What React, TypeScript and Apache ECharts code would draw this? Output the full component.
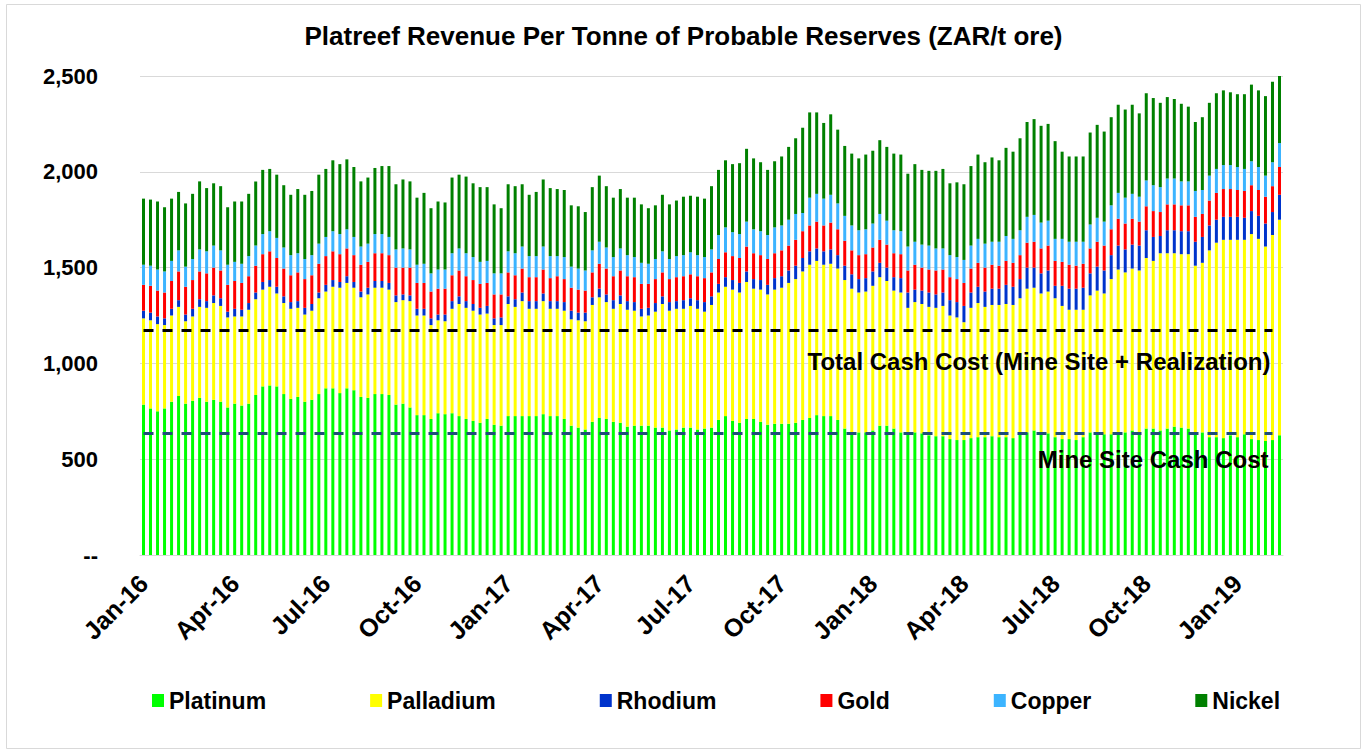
import React, { useEffect, useRef } from "react";
import * as echarts from "echarts";

// Quarterly tick labels (one every 13 weekly categories)
const tickLabels = [
  "Jan-16", "Apr-16", "Jul-16", "Oct-16", "Jan-17", "Apr-17", "Jul-17",
  "Oct-17", "Jan-18", "Apr-18", "Jul-18", "Oct-18", "Jan-19",
];
const weeksPerTick = 13;

// Weekly categories starting 1 Jan 2016 (163 weeks)
const weekCount = 163;
const categories: string[] = Array.from({ length: weekCount }, (_, i) =>
  new Date(Date.UTC(2016, 0, 1) + i * 7 * 86400000).toISOString().slice(0, 10)
);

// Stack boundaries (cumulative ZAR/t at the top of each metal)
const platinumTop = [
  785, 765, 750, 765, 800, 830, 790, 805, 820, 800, 810, 800, 770, 790, 780, 790, 835, 880, 885, 880,
  840, 815, 825, 800, 810, 840, 870, 870, 845, 870, 860, 825, 820, 840, 840, 835, 785, 790, 770, 730,
  730, 710, 740, 735, 740, 725, 710, 700, 690, 710, 680, 675, 725, 725, 725, 725, 725, 735, 725, 725,
  710, 675, 665, 655, 695, 715, 710, 695, 690, 670, 675, 675, 675, 665, 665, 650, 655, 665, 665, 655,
  660, 665, 705, 725, 700, 690, 710, 710, 695, 680, 685, 685, 685, 690, 705, 715, 730, 725, 725, 705,
  660, 640, 640, 640, 650, 675, 675, 660, 640, 640, 640, 635, 625, 620, 620, 605, 600, 600, 610, 615,
  615, 620, 615, 615, 610, 630, 640, 650, 640, 635, 615, 605, 605, 600, 615, 640, 630, 630, 630, 635,
  640, 650, 640, 660, 660, 650, 660, 670, 665, 660, 640, 640, 615, 615, 610, 625, 615, 630, 605, 600,
  595, 600, 625,
];
const palladiumTop = [
  1235, 1225, 1205, 1200, 1250, 1295, 1220, 1245, 1295, 1290, 1315, 1300, 1240, 1245, 1245, 1280, 1335, 1385, 1400, 1365,
  1315, 1285, 1290, 1255, 1275, 1340, 1375, 1400, 1395, 1420, 1395, 1345, 1360, 1395, 1395, 1385, 1320, 1330, 1325, 1250,
  1250, 1200, 1225, 1220, 1285, 1310, 1290, 1275, 1255, 1260, 1200, 1200, 1310, 1295, 1325, 1285, 1285, 1325, 1285, 1285,
  1275, 1230, 1225, 1220, 1305, 1345, 1320, 1285, 1310, 1280, 1275, 1245, 1250, 1270, 1310, 1275, 1285, 1285, 1300, 1285,
  1270, 1305, 1370, 1400, 1385, 1370, 1425, 1390, 1385, 1360, 1385, 1395, 1420, 1440, 1480, 1515, 1535, 1515, 1520, 1495,
  1435, 1390, 1370, 1375, 1405, 1450, 1430, 1380, 1370, 1290, 1320, 1310, 1295, 1290, 1300, 1250, 1240, 1215, 1290, 1315,
  1295, 1305, 1305, 1310, 1305, 1340, 1390, 1395, 1365, 1375, 1340, 1300, 1280, 1280, 1280, 1355, 1380, 1365, 1440, 1490,
  1475, 1495, 1485, 1550, 1535, 1575, 1575, 1575, 1570, 1570, 1510, 1525, 1590, 1630, 1645, 1645, 1645, 1645, 1675, 1650,
  1610, 1670, 1750,
];
const rhodiumTop = [
  1275, 1265, 1245, 1235, 1285, 1330, 1255, 1285, 1335, 1325, 1355, 1340, 1270, 1285, 1280, 1315, 1370, 1425, 1435, 1400,
  1350, 1320, 1325, 1290, 1310, 1370, 1410, 1435, 1425, 1455, 1425, 1375, 1395, 1430, 1430, 1420, 1355, 1360, 1355, 1285,
  1285, 1235, 1255, 1255, 1325, 1350, 1325, 1310, 1290, 1300, 1235, 1240, 1350, 1335, 1370, 1325, 1325, 1365, 1325, 1325,
  1320, 1275, 1265, 1265, 1345, 1390, 1360, 1330, 1355, 1325, 1320, 1285, 1290, 1315, 1350, 1320, 1325, 1330, 1340, 1330,
  1320, 1350, 1415, 1450, 1435, 1420, 1480, 1440, 1435, 1410, 1445, 1455, 1485, 1510, 1550, 1585, 1600, 1585, 1595, 1565,
  1510, 1465, 1440, 1445, 1480, 1525, 1500, 1450, 1445, 1370, 1385, 1380, 1370, 1360, 1370, 1330, 1320, 1300, 1370, 1400,
  1375, 1390, 1390, 1410, 1400, 1440, 1500, 1500, 1470, 1485, 1405, 1405, 1390, 1390, 1395, 1470, 1505, 1485, 1565, 1615,
  1595, 1620, 1615, 1695, 1660, 1665, 1695, 1695, 1690, 1690, 1635, 1660, 1720, 1750, 1765, 1765, 1765, 1760, 1795, 1770,
  1730, 1790, 1880,
];
const goldTop = [
  1410, 1405, 1380, 1370, 1430, 1480, 1400, 1435, 1480, 1470, 1500, 1485, 1410, 1430, 1420, 1455, 1510, 1570, 1585, 1550,
  1495, 1460, 1475, 1440, 1460, 1520, 1560, 1585, 1570, 1600, 1565, 1515, 1530, 1575, 1575, 1565, 1500, 1500, 1500, 1420,
  1420, 1375, 1390, 1390, 1460, 1485, 1455, 1435, 1415, 1420, 1360, 1360, 1475, 1460, 1495, 1450, 1450, 1490, 1445, 1455,
  1440, 1395, 1385, 1380, 1475, 1520, 1495, 1455, 1485, 1455, 1450, 1415, 1415, 1440, 1475, 1440, 1450, 1455, 1465, 1455,
  1445, 1475, 1545, 1580, 1560, 1550, 1610, 1575, 1565, 1545, 1575, 1590, 1615, 1645, 1690, 1720, 1740, 1720, 1735, 1700,
  1640, 1590, 1565, 1570, 1605, 1645, 1620, 1575, 1570, 1485, 1515, 1500, 1490, 1485, 1490, 1450, 1440, 1420, 1495, 1525,
  1500, 1515, 1510, 1535, 1525, 1565, 1630, 1635, 1600, 1615, 1535, 1530, 1515, 1510, 1520, 1600, 1635, 1615, 1700, 1755,
  1730, 1755, 1740, 1820, 1795, 1790, 1830, 1830, 1825, 1825, 1765, 1780, 1850, 1890, 1910, 1910, 1905, 1900, 1930, 1905,
  1870, 1925, 2025,
];
const copperTop = [
  1515, 1510, 1490, 1480, 1535, 1590, 1505, 1545, 1595, 1585, 1615, 1590, 1515, 1530, 1520, 1560, 1615, 1675, 1690, 1655,
  1605, 1565, 1575, 1545, 1565, 1625, 1660, 1690, 1675, 1700, 1660, 1610, 1625, 1675, 1675, 1660, 1595, 1600, 1595, 1515,
  1520, 1470, 1490, 1490, 1575, 1600, 1575, 1555, 1530, 1535, 1470, 1470, 1585, 1575, 1610, 1560, 1560, 1610, 1560, 1560,
  1555, 1505, 1495, 1485, 1590, 1635, 1605, 1555, 1600, 1565, 1555, 1525, 1520, 1545, 1585, 1545, 1560, 1565, 1580, 1565,
  1555, 1595, 1670, 1710, 1685, 1675, 1740, 1700, 1690, 1670, 1710, 1720, 1750, 1780, 1785, 1865, 1885, 1860, 1880, 1835,
  1770, 1720, 1695, 1700, 1730, 1780, 1745, 1695, 1690, 1610, 1635, 1620, 1615, 1600, 1600, 1565, 1555, 1540, 1615, 1650,
  1625, 1635, 1635, 1665, 1650, 1695, 1765, 1775, 1735, 1745, 1650, 1650, 1635, 1635, 1635, 1725, 1760, 1740, 1825, 1890,
  1865, 1885, 1870, 1955, 1930, 1920, 1965, 1965, 1950, 1950, 1900, 1905, 1980, 2015, 2035, 2035, 2025, 2015, 2055, 2025,
  1980, 2050, 2150,
];
const nickelTop = [
  1860, 1855, 1845, 1815, 1860, 1895, 1835, 1885, 1950, 1915, 1940, 1925, 1815, 1845, 1845, 1885, 1950, 2010, 2015, 1985,
  1930, 1880, 1910, 1880, 1900, 1985, 2015, 2060, 2040, 2065, 2025, 1950, 1970, 2020, 2030, 2030, 1935, 1960, 1950, 1865,
  1890, 1810, 1845, 1840, 1970, 1985, 1975, 1940, 1920, 1920, 1830, 1810, 1935, 1925, 1935, 1880, 1895, 1960, 1915, 1910,
  1905, 1825, 1820, 1790, 1920, 1980, 1925, 1865, 1910, 1865, 1865, 1830, 1810, 1825, 1880, 1830, 1850, 1870, 1875, 1870,
  1860, 1925, 2010, 2060, 2040, 2045, 2120, 2070, 2050, 2010, 2055, 2080, 2130, 2175, 2230, 2310, 2310, 2255, 2300, 2220,
  2135, 2095, 2070, 2090, 2110, 2165, 2130, 2095, 2090, 1990, 2040, 2010, 2005, 2005, 2015, 1940, 1945, 1935, 2030, 2090,
  2050, 2075, 2060, 2125, 2105, 2175, 2260, 2275, 2240, 2250, 2160, 2105, 2080, 2080, 2080, 2205, 2245, 2210, 2285, 2350,
  2325, 2350, 2305, 2410, 2385, 2360, 2390, 2380, 2355, 2340, 2260, 2285, 2360, 2410, 2425, 2415, 2405, 2405, 2455, 2425,
  2395, 2470, 2500,
];

// Cost reference levels (ZAR/t)
const totalCashCost = 1175;
const mineSiteCashCost = 635;

const metals = ["Platinum", "Palladium", "Rhodium", "Gold", "Copper", "Nickel"];
const colors = ["#00ff00", "#ffff00", "#0033cc", "#ff0000", "#3cb4ff", "#008000"];
const tops = [platinumTop, palladiumTop, rhodiumTop, goldTop, copperTop, nickelTop];

const FONT = "'Liberation Sans', Arial, sans-serif";

export default function App() {
  const ref = useRef<HTMLDivElement>(null);

  useEffect(() => {
    if (!ref.current) return;
    const chart = echarts.init(ref.current, undefined, { renderer: "svg" });

    const barSeries = metals.map((name, k) => ({
      name,
      type: "bar",
      stack: "revenue",
      barWidth: 3,
      itemStyle: { color: colors[k] },
      data: tops[k].map((v, i) => (k === 0 ? v : v - tops[k - 1][i])),
    }));

    const lastIdx = weekCount - 2;
    const labelBase = {
      show: true,
      position: "insideEndBottom",
      color: "#000",
      fontSize: 24,
      fontWeight: "bold",
      fontFamily: FONT,
    };
    const costSeries = {
      name: "costs",
      type: "line",
      data: [],
      silent: true,
      markLine: {
        symbol: "none",
        silent: true,
        data: [
          [
            {
              coord: [0, totalCashCost],
              lineStyle: { color: "#000000", width: 3, type: [10, 9] },
              label: {
                ...labelBase,
                formatter: "Total Cash Cost (Mine Site + Realization)",
                distance: [2, 20],
              },
            },
            { coord: [lastIdx, totalCashCost] },
          ],
          [
            {
              coord: [0, mineSiteCashCost],
              lineStyle: { color: "#1f4e79", width: 3, type: [10, 9] },
              label: {
                ...labelBase,
                formatter: "Mine Site Cash Cost",
                distance: [4, 14],
              },
            },
            { coord: [lastIdx, mineSiteCashCost] },
          ],
        ],
      },
    };

    chart.setOption({
      animation: false,
      backgroundColor: "#ffffff",
      textStyle: { fontFamily: FONT },
      title: {
        text: "Platreef Revenue Per Tonne of Probable Reserves (ZAR/t ore)",
        left: "center",
        top: 18,
        textStyle: { fontSize: 26, fontWeight: "bold", color: "#000", fontFamily: FONT },
      },
      graphic: [
        {
          type: "rect",
          shape: { x: 6.5, y: 4.5, width: 1354, height: 744 },
          style: { fill: "none", stroke: "#d9d9d9", lineWidth: 1 },
          silent: true,
        },
      ],
      legend: {
        data: metals,
        left: 147,
        top: 684,
        icon: "rect",
        itemWidth: 12,
        itemHeight: 13,
        itemGap: 104,
        textStyle: { fontSize: 23, fontWeight: "bold", color: "#000", fontFamily: FONT },
      },
      grid: { left: 140, right: 84, top: 76, bottom: 198, containLabel: false },
      xAxis: {
        type: "category",
        data: categories,
        axisLine: { lineStyle: { color: "#d9d9d9", width: 1 } },
        axisTick: { show: false },
        axisLabel: {
          rotate: 45,
          interval: (index: number) => index % weeksPerTick === 0,
          formatter: (_v: string, index: number) =>
            index % weeksPerTick === 0 ? tickLabels[index / weeksPerTick] ?? "" : "",
          fontSize: 25,
          fontWeight: "bold",
          color: "#000",
          fontFamily: FONT,
          margin: 24,
        },
      },
      yAxis: {
        type: "value",
        min: 0,
        max: 2500,
        interval: 500,
        axisLine: { show: false },
        axisTick: { show: false },
        splitLine: { lineStyle: { color: "#d9d9d9", width: 1 } },
        axisLabel: {
          formatter: (v: number) => (v === 0 ? "--" : v.toLocaleString("en-US")),
          fontSize: 22,
          fontWeight: "bold",
          color: "#000",
          fontFamily: FONT,
          margin: 42,
        },
      },
      series: [...barSeries, costSeries],
    });

    return () => chart.dispose();
  }, []);

  return (
    <div
      ref={ref}
      style={{ position: "fixed", left: 0, top: 0, width: 1367, height: 753, background: "#fff" }}
    />
  );
}
